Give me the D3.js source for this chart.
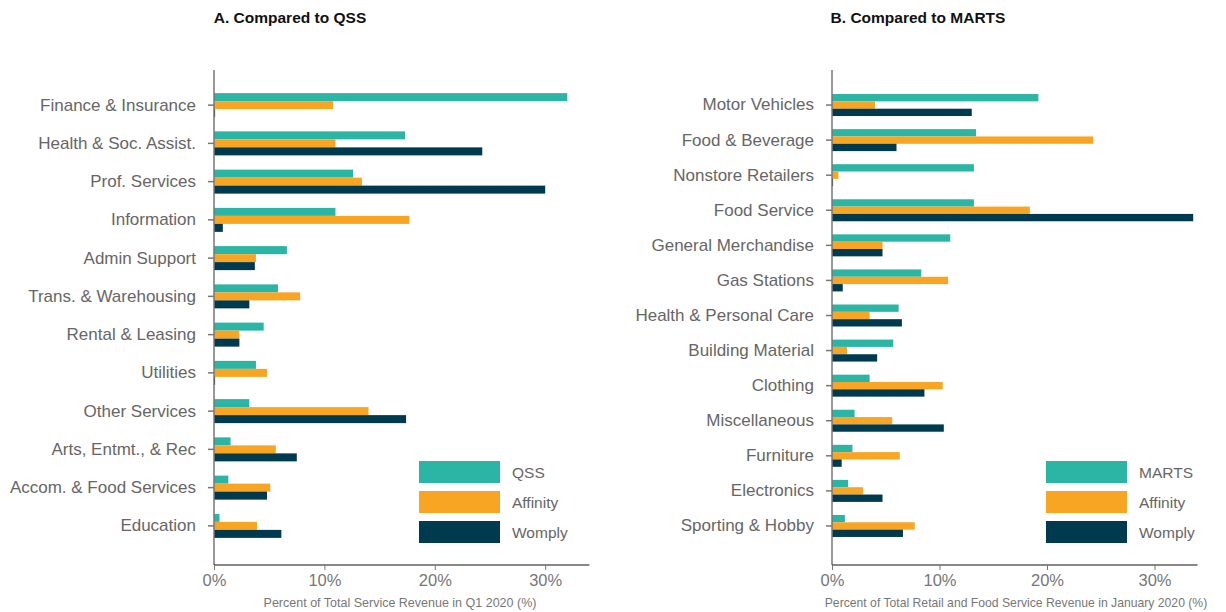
<!DOCTYPE html>
<meta charset="utf-8">
<script src="https://d3js.org/d3.v7.min.js"></script>
<style>
  body { margin: 0; background: #fff; }
  svg { font-family: "Liberation Sans", Arial, sans-serif; }
  .cat text { fill: #666; font-size: 17px; }
  .xax text { fill: #777; font-size: 16.5px; }
</style>
<div id="chart"></div>
<script>
// panel A: service sectors vs QSS
var catsA = ["Finance & Insurance", "Health & Soc. Assist.", "Prof. Services", "Information",
  "Admin Support", "Trans. & Warehousing", "Rental & Leasing", "Utilities", "Other Services",
  "Arts, Entmt., & Rec", "Accom. & Food Services", "Education"];
var qssA     = [32.0, 17.3, 12.6, 11.0, 6.6, 5.8, 4.5, 3.8, 3.2, 1.5, 1.3, 0.5];
var affinityA = [10.8, 11.0, 13.4, 17.7, 3.8, 7.8, 2.3, 4.8, 14.0, 5.6, 5.1, 3.9];
var womplyA  = [0.1, 24.3, 30.0, 0.8, 3.7, 3.2, 2.3, 0.1, 17.4, 7.5, 4.8, 6.1];

// panel B: retail sectors vs MARTS
var catsB = ["Motor Vehicles", "Food & Beverage", "Nonstore Retailers", "Food Service",
  "General Merchandise", "Gas Stations", "Health & Personal Care", "Building Material",
  "Clothing", "Miscellaneous", "Furniture", "Electronics", "Sporting & Hobby"];
var martsB    = [19.2, 13.4, 13.2, 13.2, 11.0, 8.3, 6.2, 5.7, 3.5, 2.1, 1.9, 1.5, 1.2];
var affinityB = [4.0, 24.3, 0.6, 18.4, 4.7, 10.8, 3.5, 1.4, 10.3, 5.6, 6.3, 2.9, 7.7];
var womplyB   = [13.0, 6.0, 0.1, 33.6, 4.7, 1.0, 6.5, 4.2, 8.6, 10.4, 0.9, 4.7, 6.6];

var xTicks = [0, 10, 20, 30];
var colors = ["#2bb5a4", "#f8a523", "#003a4f"];

var svg = d3.select("#chart").append("svg")
  .attr("width", 1226).attr("height", 612);

function panel(o) {
  var g = svg.append("g");
  var x = d3.scaleLinear().domain([0, 34]).range([o.x0, o.x1]);
  var y = d3.scaleBand().domain(o.cats).range([o.yTop, o.yBot]);
  var sub = d3.scaleBand().domain(o.names)
    .range([y.bandwidth() / 2 - o.grp / 2, y.bandwidth() / 2 + o.grp / 2]);

  // title
  svg.append("text").attr("x", o.titleX).attr("y", 23)
    .attr("text-anchor", "middle").style("font-weight", "bold").style("font-size", "15.5px")
    .attr("fill", "#111").text(o.title);

  // bars
  o.names.forEach(function(n, si) {
    g.append("g").selectAll("rect")
      .data(o.series[si])
      .join("rect")
      .attr("x", x(0))
      .attr("y", function(d, i) { return y(o.cats[i]) + sub(n); })
      .attr("width", function(d) { return x(d) - x(0); })
      .attr("height", sub.bandwidth())
      .attr("fill", colors[si]);
  });

  // y axis
  var ya = g.append("g").attr("class", "cat")
    .attr("transform", "translate(" + x(0) + ",0)")
    .call(d3.axisLeft(y).tickSize(6).tickPadding(12));
  ya.select(".domain").remove();
  ya.selectAll("line").attr("stroke", "#777").attr("stroke-width", 1.5);
  g.append("line").attr("x1", x(0)).attr("x2", x(0)).attr("y1", 70).attr("y2", o.axisY)
    .attr("stroke", "#777").attr("stroke-width", 1.5);

  // x axis
  var xa = g.append("g").attr("class", "xax")
    .attr("transform", "translate(0," + o.axisY + ")")
    .call(d3.axisBottom(x).tickValues(xTicks).tickSize(5).tickPadding(4)
      .tickFormat(function(d) { return d + "%"; }));
  xa.select(".domain").attr("d", "M" + x(0) + ",0H" + o.x1).attr("stroke", "#111");
  xa.selectAll("line").attr("stroke", "#777");

  svg.append("text").attr("x", o.xTitleX).attr("y", 607)
    .attr("text-anchor", "middle").attr("fill", "#777").style("font-size", o.xTitleSize)
    .text(o.xTitle);

  // legend
  var lg = svg.append("g").attr("transform", "translate(" + o.legX + ",461)");
  o.names.forEach(function(n, i) {
    lg.append("rect").attr("x", 0).attr("y", i * 30).attr("width", 81).attr("height", 22)
      .attr("fill", colors[i]);
    lg.append("text").attr("x", 93).attr("y", i * 30 + 16.5).attr("fill", "#666")
      .style("font-size", "15.5px").text(n);
  });
}

panel({
  cats: catsA, names: ["QSS", "Affinity", "Womply"], series: [qssA, affinityA, womplyA],
  x0: 214, x1: 214 + 34 * 11.04, yTop: 86, yBot: 545, grp: 24, axisY: 565,
  title: "A. Compared to QSS", titleX: 290,
  xTitle: "Percent of Total Service Revenue in Q1 2020 (%)", xTitleX: 400, xTitleSize: "12.5px", legX: 419
});

panel({
  cats: catsB, names: ["MARTS", "Affinity", "Womply"], series: [martsB, affinityB, womplyB],
  x0: 832, x1: 832 + 34 * 10.75, yTop: 87.5, yBot: 543.5, grp: 22, axisY: 565,
  title: "B. Compared to MARTS", titleX: 918,
  xTitle: "Percent of Total Retail and Food Service Revenue in January 2020 (%)", xTitleX: 1016, xTitleSize: "12.2px", legX: 1046
});
</script>
